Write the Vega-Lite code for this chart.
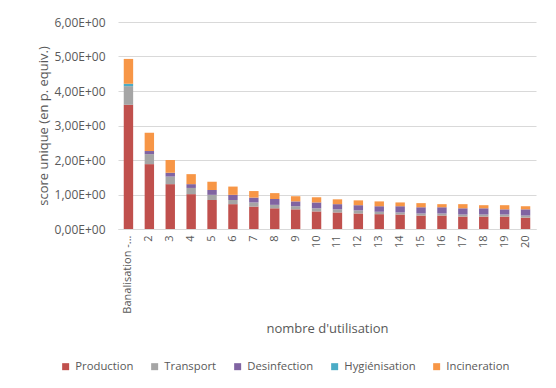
{
  "$schema": "https://vega.github.io/schema/vega-lite/v6.json",
  "width": 418,
  "height": 207,
  "autosize": {"type": "none"},
  "padding": {"left": 118, "top": 22, "right": 20, "bottom": 159},
  "background": "white",
  "config": {"view": {"stroke": null}, "font": "Open Sans"},
  "data": {
    "values": [
      {"n": "Banalisation -...", "Production": 3.60, "Transport": 0.54, "Desinfection": 0.0, "Hygiénisation": 0.07, "Incineration": 0.72},
      {"n": "2", "Production": 1.88, "Transport": 0.29, "Desinfection": 0.09, "Hygiénisation": 0.0, "Incineration": 0.53},
      {"n": "3", "Production": 1.30, "Transport": 0.22, "Desinfection": 0.11, "Hygiénisation": 0.0, "Incineration": 0.37},
      {"n": "4", "Production": 1.01, "Transport": 0.18, "Desinfection": 0.11, "Hygiénisation": 0.0, "Incineration": 0.29},
      {"n": "5", "Production": 0.84, "Transport": 0.15, "Desinfection": 0.14, "Hygiénisation": 0.0, "Incineration": 0.24},
      {"n": "6", "Production": 0.72, "Transport": 0.12, "Desinfection": 0.15, "Hygiénisation": 0.0, "Incineration": 0.24},
      {"n": "7", "Production": 0.65, "Transport": 0.12, "Desinfection": 0.14, "Hygiénisation": 0.0, "Incineration": 0.19},
      {"n": "8", "Production": 0.60, "Transport": 0.10, "Desinfection": 0.17, "Hygiénisation": 0.0, "Incineration": 0.17},
      {"n": "9", "Production": 0.57, "Transport": 0.09, "Desinfection": 0.14, "Hygiénisation": 0.0, "Incineration": 0.15},
      {"n": "10", "Production": 0.51, "Transport": 0.09, "Desinfection": 0.17, "Hygiénisation": 0.0, "Incineration": 0.15},
      {"n": "11", "Production": 0.48, "Transport": 0.09, "Desinfection": 0.15, "Hygiénisation": 0.0, "Incineration": 0.14},
      {"n": "12", "Production": 0.45, "Transport": 0.09, "Desinfection": 0.15, "Hygiénisation": 0.0, "Incineration": 0.14},
      {"n": "13", "Production": 0.43, "Transport": 0.07, "Desinfection": 0.16, "Hygiénisation": 0.0, "Incineration": 0.14},
      {"n": "14", "Production": 0.42, "Transport": 0.06, "Desinfection": 0.18, "Hygiénisation": 0.0, "Incineration": 0.11},
      {"n": "15", "Production": 0.39, "Transport": 0.06, "Desinfection": 0.18, "Hygiénisation": 0.0, "Incineration": 0.12},
      {"n": "16", "Production": 0.39, "Transport": 0.06, "Desinfection": 0.18, "Hygiénisation": 0.0, "Incineration": 0.09},
      {"n": "17", "Production": 0.36, "Transport": 0.06, "Desinfection": 0.18, "Hygiénisation": 0.0, "Incineration": 0.12},
      {"n": "18", "Production": 0.36, "Transport": 0.06, "Desinfection": 0.18, "Hygiénisation": 0.0, "Incineration": 0.09},
      {"n": "19", "Production": 0.36, "Transport": 0.06, "Desinfection": 0.15, "Hygiénisation": 0.0, "Incineration": 0.12},
      {"n": "20", "Production": 0.33, "Transport": 0.06, "Desinfection": 0.18, "Hygiénisation": 0.0, "Incineration": 0.09}
    ]
  },
  "transform": [
    {"fold": ["Production", "Transport", "Desinfection", "Hygiénisation", "Incineration"], "as": ["poste", "score"]},
    {"calculate": "indexof(['Production','Transport','Desinfection','Hygiénisation','Incineration'], datum.poste)", "as": "rang"}
  ],
  "mark": {"type": "bar"},
  "encoding": {
    "x": {
      "field": "n",
      "type": "nominal",
      "sort": null,
      "scale": {"paddingInner": 0.55, "paddingOuter": 0.275},
      "axis": {
        "title": "nombre d'utilisation",
        "titleY": 103,
        "titleBaseline": "alphabetic",
        "titleFontSize": 13,
        "titleFontWeight": "normal",
        "titleColor": "#595959",
        "labelAngle": -90,
        "labelPadding": 6,
        "labelFontSize": 11,
        "labelColor": "#595959",
        "ticks": false,
        "domainColor": "#D9D9D9",
        "labelLimit": 200
      }
    },
    "y": {
      "field": "score",
      "type": "quantitative",
      "stack": "zero",
      "scale": {"domain": [0, 6], "nice": false},
      "axis": {
        "title": "score unique (en p. equiv.)",
        "titleX": -75,
        "titleY": 103.5,
        "titleAngle": -90,
        "titleAlign": "center",
        "titleBaseline": "middle",
        "titleFontSize": 13,
        "titleFontWeight": "normal",
        "titleColor": "#595959",
        "values": [0, 1, 2, 3, 4, 5, 6],
        "labelExpr": "replace(format(datum.value, '.2f'), '.', ',') + 'E+00'",
        "labelPadding": 13,
        "labelFontSize": 12,
        "labelColor": "#595959",
        "ticks": false,
        "domain": false,
        "gridColor": "#D9D9D9"
      }
    },
    "color": {
      "field": "poste",
      "type": "nominal",
      "scale": {
        "domain": ["Production", "Transport", "Desinfection", "Hygiénisation", "Incineration"],
        "range": ["#C0504D", "#A5A5A5", "#8064A2", "#4BACC6", "#F79646"]
      },
      "legend": {
        "title": null,
        "orient": "none",
        "legendX": -58,
        "legendY": 339,
        "direction": "horizontal",
        "symbolType": "square",
        "symbolSize": 49,
        "symbolStrokeWidth": 0,
        "labelFontSize": 11.3,
        "labelColor": "#595959",
        "labelOffset": 4,
        "columnPadding": 15
      }
    },
    "order": {"field": "rang", "type": "quantitative"}
  }
}
